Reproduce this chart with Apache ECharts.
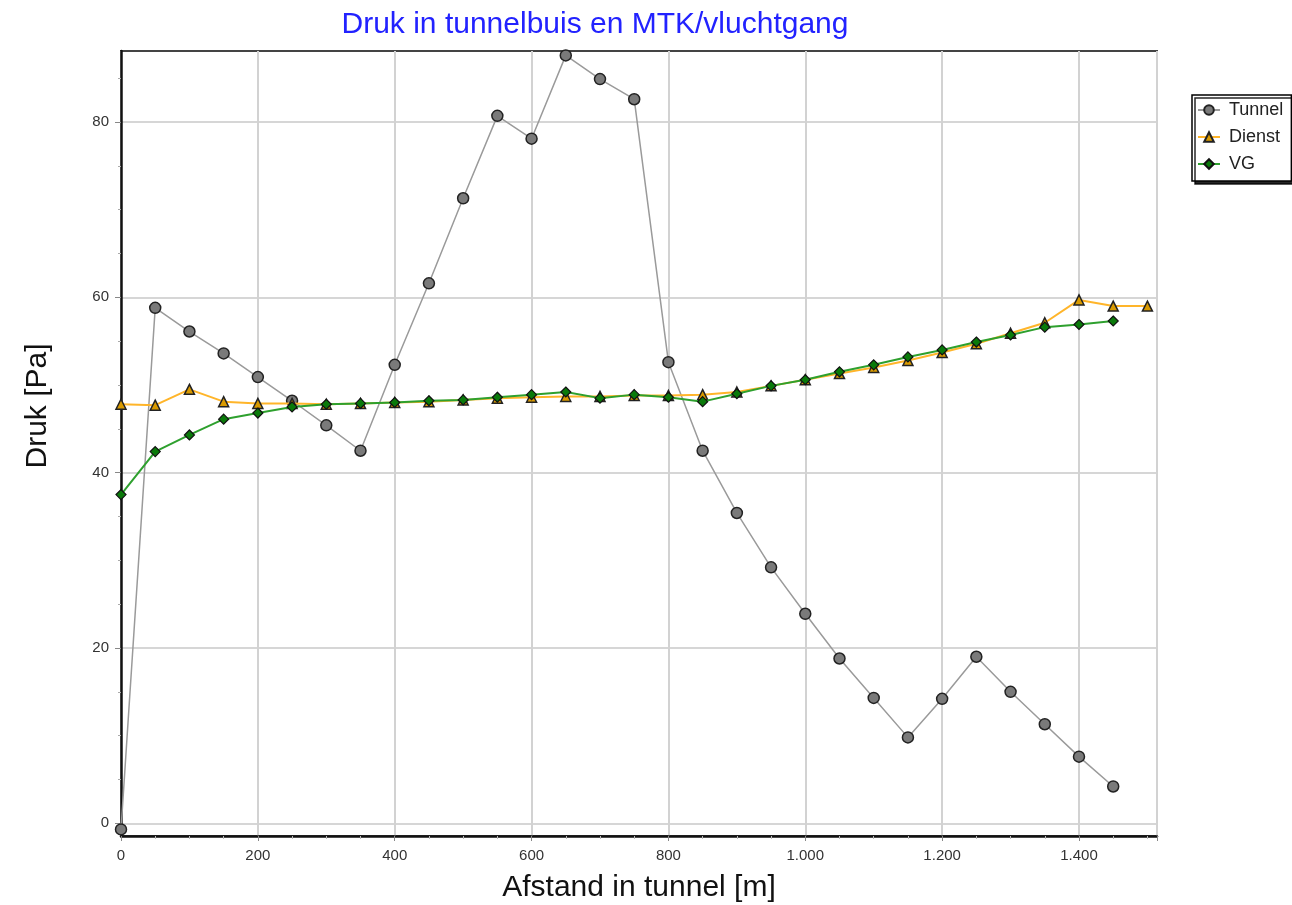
<!DOCTYPE html>
<html><head><meta charset="utf-8">
<script src="https://cdn.jsdelivr.net/npm/echarts@6/dist/echarts.min.js"></script>
<style>html,body{margin:0;padding:0;background:#fff}#c{width:1292px;height:905px}</style>
</head><body><div id="c"></div>
<script>
const xValues = [0,50,100,150,200,250,300,350,400,450,500,550,600,650,700,750,800,850,900,950,1000,1050,1100,1150,1200,1250,1300,1350,1400,1450,1500];
const tunnel = [-0.7,58.8,56.1,53.6,50.9,48.2,45.4,42.5,52.3,61.6,71.3,80.7,78.1,87.6,84.9,82.6,52.6,42.5,35.4,29.2,23.9,18.8,14.3,9.8,14.2,19.0,15.0,11.3,7.6,4.2];
const dienst = [47.8,47.7,49.5,48.1,47.9,47.9,47.8,47.9,48.0,48.1,48.3,48.5,48.6,48.7,48.7,48.8,48.8,48.9,49.2,49.9,50.6,51.3,52.0,52.8,53.7,54.7,55.9,57.1,59.7,59.0,59.0];
const vg = [37.5,42.4,44.3,46.1,46.8,47.5,47.8,47.9,48.0,48.2,48.3,48.6,48.9,49.2,48.5,48.9,48.6,48.1,49.0,49.9,50.6,51.5,52.3,53.2,54.0,54.9,55.7,56.6,56.9,57.3];
const yTicks = [0,20,40,60,80];
const yMinorTicks = [5,10,15,25,30,35,45,50,55,65,70,75,85];
const seriesNames = ['Tunnel','Dienst','VG'];
const titleText = 'Druk in tunnelbuis en MTK/vluchtgang';
const xName = 'Afstand in tunnel [m]';
const yName = 'Druk [Pa]';

const pairs = arr => arr.map((v,i)=>[xValues[i], v]);
const fmt = v => String(v).replace(/\B(?=(\d{3})+(?!\d))/g,'.');
const FONT = '"Liberation Sans", Arial, sans-serif';

const chart = echarts.init(document.getElementById('c'));
chart.setOption({
  animation:false,
  textStyle:{fontFamily:FONT},
  title:{text:titleText,left:590,textAlign:'center',top:5,
    textStyle:{color:'#2222ff',fontSize:30,fontWeight:'normal',fontFamily:FONT}},
  graphic:[{type:'text',x:38,y:406,rotation:Math.PI/2,
    style:{text:yName,fill:'#111',font:'30px "Liberation Sans", Arial, sans-serif',align:'center',verticalAlign:'middle'}}],
  grid:{left:121,top:51,right:135,bottom:69,outerBoundsMode:'none',containLabel:false,show:true,borderColor:'#444',borderWidth:2,backgroundColor:'#fff'},
  legend:{orient:'vertical',left:1192,top:95,width:100,itemGap:9,itemWidth:22,itemHeight:12,
    padding:[6,8,8,5],borderColor:'#000',borderWidth:1.5,backgroundColor:'#fff',
    shadowColor:'rgba(0,0,0,0.85)',shadowOffsetX:3,shadowOffsetY:3,shadowBlur:0,
    textStyle:{fontSize:18,color:'#222',fontFamily:FONT,padding:[0,0,0,4]},
    data:seriesNames},
  xAxis:{type:'value',min:0,max:1514,interval:200,
    name:xName,nameLocation:'middle',nameGap:37,
    nameTextStyle:{fontSize:30,color:'#111',fontFamily:FONT},
    axisLine:{show:true,onZero:false,lineStyle:{color:'#111',width:2.5}},
    axisTick:{show:true,inside:false,length:5,lineStyle:{color:'#888'}},
    minorTick:{show:true,splitNumber:4,length:3,lineStyle:{color:'#bbb'}},
    axisLabel:{fontSize:15,color:'#333',margin:12,formatter:v=>fmt(v),showMaxLabel:false},
    splitLine:{show:true,lineStyle:{color:'#d2d2d2',width:2}}},
  yAxis:[{type:'value',min:-1.45,max:88.1,position:'left',
    axisLine:{show:true,onZero:false,lineStyle:{color:'#111',width:2.5}},
    axisTick:{show:true,length:6,customValues:yTicks,lineStyle:{color:'#888'}},
    axisLabel:{fontSize:15,color:'#333',margin:12,customValues:yTicks},
    splitLine:{show:true,lineStyle:{color:'#d6d6d6',width:2}}},
   {type:'value',min:-1.45,max:88.1,position:'left',
    axisLine:{show:false,onZero:false},
    axisTick:{show:true,length:3,customValues:yMinorTicks,lineStyle:{color:'#aaa'}},
    axisLabel:{show:false,customValues:yMinorTicks},
    splitLine:{show:false}}],
  series:[
    {name:seriesNames[0],type:'line',data:pairs(tunnel),symbol:'circle',symbolSize:11,z:2,
     lineStyle:{color:'#9a9a9a',width:1.5},
     itemStyle:{color:'#7a7a7a',borderColor:'#222',borderWidth:1.5}},
    {name:seriesNames[1],type:'line',data:pairs(dienst),symbol:'triangle',symbolSize:10,z:3,
     lineStyle:{color:'#ffb52a',width:2},
     itemStyle:{color:'#d99a00',borderColor:'#222',borderWidth:1.5}},
    {name:seriesNames[2],type:'line',data:pairs(vg),symbol:'diamond',symbolSize:10,z:4,
     lineStyle:{color:'#2ea02e',width:2},
     itemStyle:{color:'#0a7a0a',borderColor:'#111',borderWidth:1.2}}
  ]
});
</script></body></html>
